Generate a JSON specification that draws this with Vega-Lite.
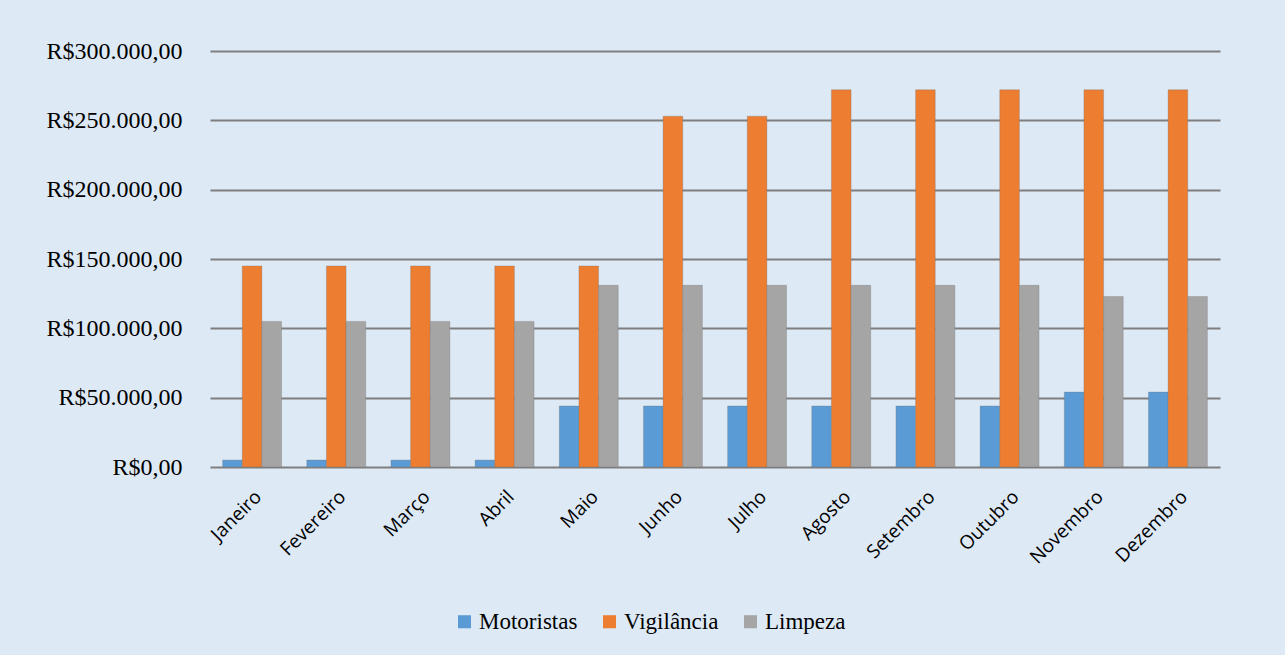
{
  "$schema": "https://vega.github.io/schema/vega-lite/v6.json",
  "width": 1010,
  "height": 416,
  "autosize": {"type": "none"},
  "padding": {"left": 210, "top": 51, "right": 65, "bottom": 188},
  "background": "#dde9f5",
  "data": {"values": [
    {"mes": "Janeiro", "serie": "Motoristas", "valor": 5000},
    {"mes": "Janeiro", "serie": "Vigilância", "valor": 145000},
    {"mes": "Janeiro", "serie": "Limpeza", "valor": 105000},
    {"mes": "Fevereiro", "serie": "Motoristas", "valor": 5000},
    {"mes": "Fevereiro", "serie": "Vigilância", "valor": 145000},
    {"mes": "Fevereiro", "serie": "Limpeza", "valor": 105000},
    {"mes": "Março", "serie": "Motoristas", "valor": 5000},
    {"mes": "Março", "serie": "Vigilância", "valor": 145000},
    {"mes": "Março", "serie": "Limpeza", "valor": 105000},
    {"mes": "Abril", "serie": "Motoristas", "valor": 5000},
    {"mes": "Abril", "serie": "Vigilância", "valor": 145000},
    {"mes": "Abril", "serie": "Limpeza", "valor": 105000},
    {"mes": "Maio", "serie": "Motoristas", "valor": 44000},
    {"mes": "Maio", "serie": "Vigilância", "valor": 145000},
    {"mes": "Maio", "serie": "Limpeza", "valor": 131000},
    {"mes": "Junho", "serie": "Motoristas", "valor": 44000},
    {"mes": "Junho", "serie": "Vigilância", "valor": 253000},
    {"mes": "Junho", "serie": "Limpeza", "valor": 131000},
    {"mes": "Julho", "serie": "Motoristas", "valor": 44000},
    {"mes": "Julho", "serie": "Vigilância", "valor": 253000},
    {"mes": "Julho", "serie": "Limpeza", "valor": 131000},
    {"mes": "Agosto", "serie": "Motoristas", "valor": 44000},
    {"mes": "Agosto", "serie": "Vigilância", "valor": 272000},
    {"mes": "Agosto", "serie": "Limpeza", "valor": 131000},
    {"mes": "Setembro", "serie": "Motoristas", "valor": 44000},
    {"mes": "Setembro", "serie": "Vigilância", "valor": 272000},
    {"mes": "Setembro", "serie": "Limpeza", "valor": 131000},
    {"mes": "Outubro", "serie": "Motoristas", "valor": 44000},
    {"mes": "Outubro", "serie": "Vigilância", "valor": 272000},
    {"mes": "Outubro", "serie": "Limpeza", "valor": 131000},
    {"mes": "Novembro", "serie": "Motoristas", "valor": 54000},
    {"mes": "Novembro", "serie": "Vigilância", "valor": 272000},
    {"mes": "Novembro", "serie": "Limpeza", "valor": 123000},
    {"mes": "Dezembro", "serie": "Motoristas", "valor": 54000},
    {"mes": "Dezembro", "serie": "Vigilância", "valor": 272000},
    {"mes": "Dezembro", "serie": "Limpeza", "valor": 123000}
  ]},
  "mark": {"type": "bar", "stroke": "#6f6f6f", "strokeWidth": 0.5, "strokeOpacity": 0.6},
  "encoding": {
    "x": {
      "field": "mes", "type": "nominal", "sort": null, "title": null,
      "scale": {"paddingInner": 0.3, "paddingOuter": 0.15},
      "axis": {"labelAngle": -45, "labelFont": "Open Sans", "labelFontSize": 19, "labelColor": "#000000", "domain": false, "ticks": false, "labelPadding": 20, "labelOverlap": false}
    },
    "xOffset": {"field": "serie", "type": "nominal", "sort": ["Motoristas", "Vigilância", "Limpeza"], "scale": {"paddingInner": 0}},
    "y": {
      "field": "valor", "type": "quantitative", "title": null,
      "scale": {"domain": [0, 300000], "nice": false},
      "axis": {
        "values": [0, 50000, 100000, 150000, 200000, 250000, 300000],
        "labelExpr": "'R$' + replace(replace(replace(format(datum.value, ',.2f'), ',', '_'), '.', ','), '_', '.')",
        "labelFont": "Liberation Serif", "labelFontSize": 24, "labelColor": "#000000",
        "labelPadding": 28, "labelOverlap": false, "domain": false, "ticks": false,
        "gridColor": "#7f7f7f", "gridWidth": 2
      }
    },
    "color": {
      "field": "serie", "type": "nominal", "sort": ["Motoristas", "Vigilância", "Limpeza"], "title": null,
      "scale": {"domain": ["Motoristas", "Vigilância", "Limpeza"], "range": ["#5b9bd5", "#ed7d31", "#a5a5a5"]},
      "legend": {"orient": "none", "legendX": 243, "legendY": 559, "direction": "horizontal", "labelFont": "Liberation Serif", "labelFontSize": 23, "labelColor": "#000000", "symbolType": "square", "symbolSize": 170, "symbolStrokeWidth": 0, "symbolOffset": 0, "labelOffset": 3, "columnPadding": 20}
    }
  },
  "config": {"view": {"stroke": null}}
}
